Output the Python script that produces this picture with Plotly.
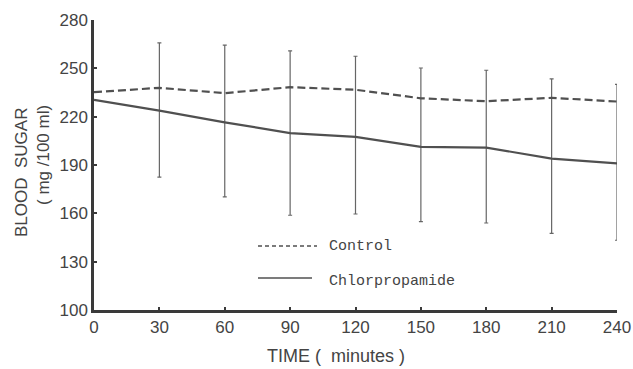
import plotly.graph_objects as go

# ---- data ----
time_min = [0, 30, 60, 90, 120, 150, 180, 210, 240]
control = [235.2, 237.9, 234.6, 238.3, 236.7, 231.4, 229.6, 231.7, 229.4]
chlorpropamide = [230.4, 223.8, 216.5, 209.8, 207.5, 201.3, 200.8, 194.0, 191.0]
chlor_upper = [None, 265.8, 264.4, 260.8, 257.5, 250.2, 248.8, 243.5, 240.0]
chlor_lower = [None, 182.5, 170.2, 158.8, 159.6, 154.8, 154.0, 147.5, 143.3]
y_ticks = [100, 130, 160, 190, 220, 250, 280]
x_ticks = [0, 30, 60, 90, 120, 150, 180, 210, 240]

err_plus = [0 if u is None else u - m for u, m in zip(chlor_upper, chlorpropamide)]
err_minus = [0 if l is None else m - l for l, m in zip(chlor_lower, chlorpropamide)]

W, H = 633, 369
L, R, T, B = 94, 16, 20, 59
PW, PH = W - L - R, H - T - B


def px(xp):
    return (xp - L) / PW


def py(yp):
    return (H - B - yp) / PH


LINE = "#505050"
AX = "#3a3a3a"
TXT = "#444444"

fig = go.Figure()

# error bars (chlorpropamide, from 30 min on)
fig.add_trace(go.Scatter(
    x=time_min[1:], y=chlorpropamide[1:], mode="markers",
    marker=dict(size=1, color="rgba(0,0,0,0)"),
    error_y=dict(type="data", symmetric=False, array=err_plus[1:],
                 arrayminus=err_minus[1:], color="#666666", thickness=1.2, width=2),
    showlegend=False, hoverinfo="skip"))

fig.add_trace(go.Scatter(
    x=time_min, y=control, mode="lines", name="Control",
    line=dict(color=LINE, width=2.2, dash="8px,4px"), showlegend=False))

fig.add_trace(go.Scatter(
    x=time_min, y=chlorpropamide, mode="lines", name="Chlorpropamide",
    line=dict(color=LINE, width=2.2), showlegend=False))

# legend drawn inside the plot
fig.add_shape(type="line", xref="paper", yref="paper",
              x0=px(258), x1=px(317), y0=py(246), y1=py(246),
              line=dict(color=LINE, width=1.5, dash="4px,3px"))
fig.add_shape(type="line", xref="paper", yref="paper",
              x0=px(258), x1=px(312), y0=py(278), y1=py(278),
              line=dict(color=LINE, width=1.5))
legend_font = dict(family="Liberation Mono, Courier New, monospace", size=15, color=TXT)
fig.add_annotation(xref="paper", yref="paper", x=px(327), y=py(246.5), text="Control",
                   showarrow=False, xanchor="left", yanchor="middle", font=legend_font)
fig.add_annotation(xref="paper", yref="paper", x=px(327), y=py(281), text="Chlorpropamide",
                   showarrow=False, xanchor="left", yanchor="middle", font=legend_font)

# axis titles
title_font = dict(family="Liberation Sans, Arial, sans-serif", size=17, color=TXT)
fig.add_annotation(xref="paper", yref="paper", x=px(21), y=py(173), text="BLOOD  SUGAR",
                   textangle=-90, showarrow=False, xanchor="center", yanchor="middle", font=title_font)
fig.add_annotation(xref="paper", yref="paper", x=px(43), y=py(155), text="( mg /100 ml)",
                   textangle=-90, showarrow=False, xanchor="center", yanchor="middle", font=title_font)
fig.add_annotation(xref="paper", yref="paper", x=px(336), y=py(356), text="TIME (  minutes )",
                   showarrow=False, xanchor="center", yanchor="middle",
                   font=dict(family="Liberation Sans, Arial, sans-serif", size=18, color=TXT))

tick_font = dict(family="Liberation Sans, Arial, sans-serif", size=17, color=TXT)
fig.update_xaxes(range=[0, 240], tickvals=x_ticks, ticktext=[str(v) for v in x_ticks],
                 showgrid=False, zeroline=False, showline=True, linecolor=AX, linewidth=2.5,
                 ticks="inside", ticklen=3, tickcolor=AX, tickwidth=1.5, tickfont=tick_font,
                 automargin=False)
fig.update_yaxes(range=[100, 280], tickvals=y_ticks, ticktext=[str(v) for v in y_ticks],
                 showgrid=False, zeroline=False, showline=True, linecolor=AX, linewidth=2.5,
                 ticks="inside", ticklen=3, tickcolor=AX, tickwidth=1.5, tickfont=tick_font,
                 automargin=False)

fig.update_layout(width=W, height=H, margin=dict(l=L, r=R, t=T, b=B, pad=0, autoexpand=False),
                  paper_bgcolor="white", plot_bgcolor="white", showlegend=False)

fig.write_html("out.html")
